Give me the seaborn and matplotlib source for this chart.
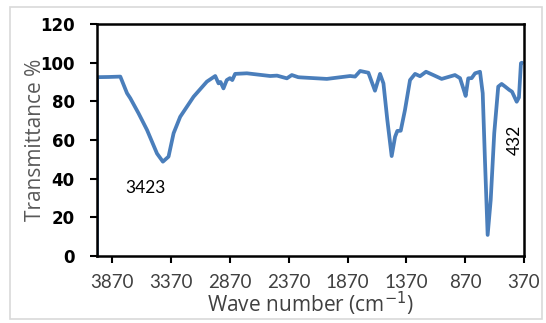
import numpy as np
import pandas as pd
import seaborn as sns
import matplotlib.pyplot as plt
from matplotlib.patches import Rectangle

# FTIR spectrum
wave_number = [4000, 3999, 3900, 3802, 3745, 3717, 3647, 3575, 3490, 3440, 3392,
               3349, 3293, 3179, 3066, 2995, 2967, 2950, 2925, 2897, 2870, 2850,
               2826, 2726, 2528, 2470, 2386, 2344, 2290, 2273, 2046, 1848, 1806,
               1763, 1693, 1637, 1594, 1565, 1532, 1495, 1466, 1447, 1418, 1382,
               1339, 1296, 1254, 1203, 1141, 1070, 957, 914, 886, 866, 844, 815,
               786, 744, 721, 702, 679, 653, 623, 589, 560, 532, 495, 472, 432,
               413, 396, 388]
transmittance = [0, 92.5, 92.6, 92.8, 84.2, 81.6, 73.8, 65.2, 53.0, 48.8, 51.4,
                 63.5, 72.0, 82.4, 90.2, 93.1, 89.3, 90.0, 86.7, 91.0, 92.0, 91.0,
                 94.2, 94.5, 93.1, 93.3, 91.9, 93.6, 92.5, 92.4, 91.6, 93.1, 92.8,
                 95.7, 94.8, 85.5, 94.2, 89.3, 70.4, 51.7, 61.7, 64.7, 64.8, 75.5,
                 91.0, 94.2, 93.0, 95.3, 93.6, 91.6, 93.6, 92.0, 86.7, 82.8, 91.9, 92.0,
                 94.5, 95.3, 84.2, 49.7, 10.9, 29.0, 63.5, 87.6, 89.0, 87.7, 85.9, 85.0, 79.8,
                 82.0, 99.7, 100.0]

x_ticks = [3870, 3370, 2870, 2370, 1870, 1370, 870, 370]
y_ticks = [0, 20, 40, 60, 80, 100, 120]

df = pd.DataFrame({"wn": wave_number, "T": transmittance})

sns.set_style("ticks")
plt.rcParams["font.family"] = ["Lato", "DejaVu Sans"]

fig = plt.figure(figsize=(5.46, 3.23), dpi=100)
ax = fig.add_axes([0.1777, 0.2074, 0.7820, 0.7183])

sns.lineplot(data=df, x="wn", y="T", ax=ax, color="#4A7EBB", linewidth=2.7,
             sort=False, estimator=None)

ax.set_xlim(4000, 370)
ax.set_ylim(0, 120)
ax.set_xticks(x_ticks)
ax.set_yticks(y_ticks)
ax.set_xticklabels([str(v) for v in x_ticks], fontsize=13.5, color="#404040")
ax.set_yticklabels([str(v) for v in y_ticks], fontsize=12, fontweight="bold",
                   color="black", family="DejaVu Sans")
ax.tick_params(axis="both", direction="out", length=5, width=1.5, color="black")
ax.tick_params(axis="x", pad=8)
ax.tick_params(axis="y", pad=11)

for s in ax.spines.values():
    s.set_linewidth(1.8)
    s.set_color("black")

ax.set_xlabel("Wave number (cm$^{-1}$)", fontsize=15, color="#404040", labelpad=-1,
              family="Open Sans")
ax.set_ylabel("Transmittance %", fontsize=15, color="#595959", family="Open Sans")
ax.yaxis.set_label_coords(-0.12, 0.5)

ax.text(3590, 35, "3423", fontsize=12.5, color="black", ha="center", va="center")
ax.text(449, 60, "432", fontsize=12.5, color="black", ha="center", va="center", rotation=90)

fig.patches.append(Rectangle((0.018, 0.012), 0.975, 0.965, transform=fig.transFigure,
                             fill=False, edgecolor="#d9d9d9", linewidth=1.2))

fig.savefig("out.png", dpi=100)
